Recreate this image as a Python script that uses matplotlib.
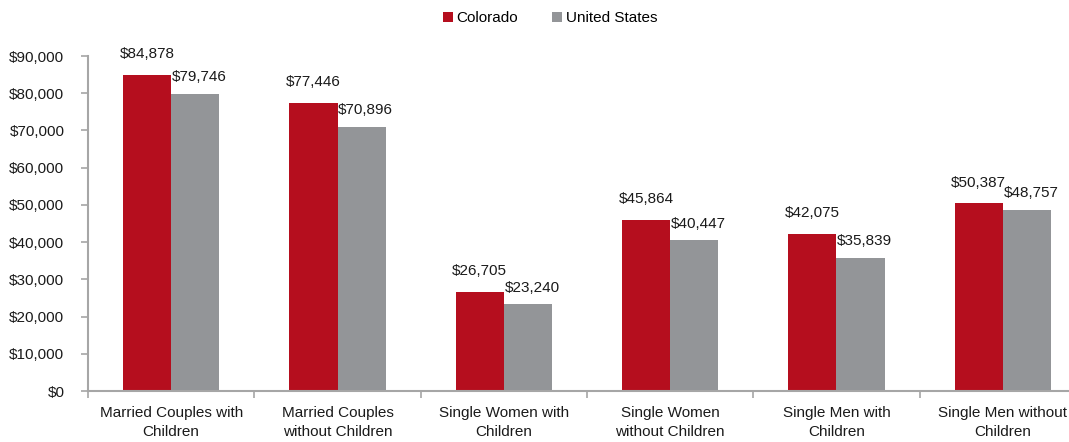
import numpy as np
import matplotlib
matplotlib.use('Agg')
import matplotlib.pyplot as plt
from matplotlib import font_manager

# Data
categories = ['Married Couples with\nChildren', 'Married Couples\nwithout Children',
              'Single Women with\nChildren', 'Single Women\nwithout Children',
              'Single Men with\nChildren', 'Single Men without\nChildren']
colorado = [84878, 77446, 26705, 45864, 42075, 50387]
united_states = [79746, 70896, 23240, 40447, 35839, 48757]
y_ticks = [0, 10000, 20000, 30000, 40000, 50000, 60000, 70000, 80000, 90000]

RED = '#B50E1E'
GRAY = '#939598'
SPINE = '#A6A6A6'
TXT = '#1a1a1a'
FS = 11

names = {f.name for f in font_manager.fontManager.ttflist}
if 'Liberation Sans Narrow' in names:
    plt.rcParams['font.family'] = ['Liberation Sans Narrow', 'DejaVu Sans']
    FS = 12.5
else:
    plt.rcParams['font.family'] = ['Liberation Sans', 'DejaVu Sans']

fig = plt.figure(figsize=(10.69, 4.42), dpi=100)
W, H = 1069, 442
# axes extends past the right edge, as in the cropped reference
ax = fig.add_axes([88 / W, 1 - 391 / H, 998 / W, (391 - 56) / H])

x = np.arange(len(categories))
bw = 0.29
b1 = ax.bar(x - bw / 2, colorado, bw, color=RED, label='Colorado')
b2 = ax.bar(x + bw / 2, united_states, bw, color=GRAY, label='United States')

# value labels: red ones sit a little higher than the gray ones
for bars, dx, dy in ((b1, 0, 10), (b2, 3, 7)):
    for r in bars:
        ax.annotate(f'${r.get_height():,.0f}', (r.get_x() + r.get_width() / 2, r.get_height()),
                    xytext=(dx, dy), textcoords='offset points', ha='center', va='bottom',
                    fontsize=FS, color=TXT)

ax.set_xlim(-0.5, len(categories) - 0.5)
ax.set_ylim(0, 90000)
ax.set_yticks(y_ticks)
ax.set_yticklabels([f'${v:,.0f}' for v in y_ticks], fontsize=FS, color=TXT)

ax.set_xticks(x)
ax.set_xticklabels(categories, fontsize=FS, color=TXT, linespacing=1.45)
ax.tick_params(axis='x', length=0, pad=11)
ax.set_xticks(np.arange(len(categories) + 1) - 0.5, minor=True)
ax.tick_params(axis='x', which='minor', length=5, color=SPINE, width=1.2)
ax.tick_params(axis='y', length=5, color=SPINE, width=1.2, pad=12)

for s in ('top', 'right'):
    ax.spines[s].set_visible(False)
for s in ('left', 'bottom'):
    ax.spines[s].set_color(SPINE)
    ax.spines[s].set_linewidth(1.5)

fig.legend(handles=[b1, b2], loc='center', bbox_to_anchor=(550 / W, 1 - 18 / H), ncol=2,
           frameon=False, fontsize=FS, handlelength=0.65, handleheight=0.65,
           handletextpad=0.25, columnspacing=2.2)

fig.savefig('out.png', dpi=100)
